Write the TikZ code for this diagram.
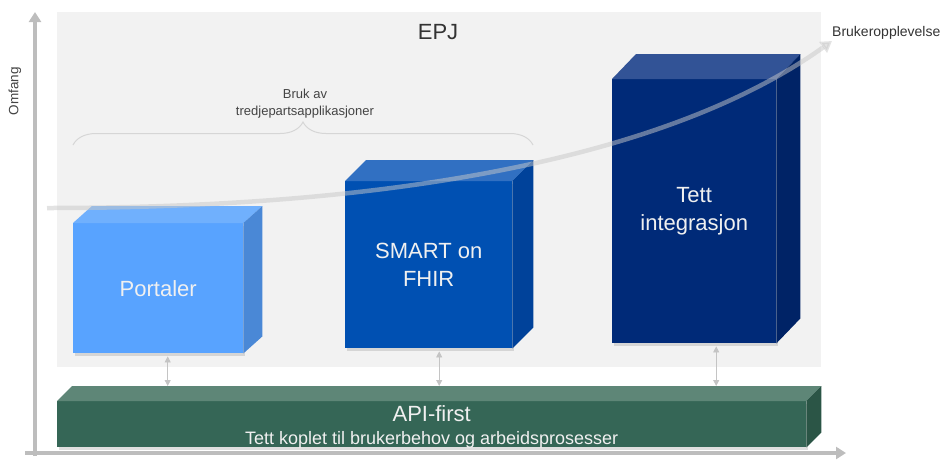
\documentclass[tikz,border=0pt]{standalone}
\usepackage{fontspec}
\setmainfont{Liberation Sans}
\usetikzlibrary{arrows.meta,positioning,calc,shadows,decorations.pathreplacing}
\definecolor{epjbg}{HTML}{F2F2F2}
\definecolor{axisgray}{HTML}{BDBDBD}
\definecolor{linkgray}{HTML}{C4C4C4}
\definecolor{trendgray}{HTML}{C8C8C8}
\definecolor{bracegray}{HTML}{D6D6D6}
\definecolor{notegray}{HTML}{444444}
\definecolor{portalfront}{HTML}{58A3FF}
\definecolor{portaltop}{HTML}{70B0FD}
\definecolor{portalside}{HTML}{4A88D6}
\definecolor{smartfront}{HTML}{0050B2}
\definecolor{smarttop}{HTML}{3170C2}
\definecolor{smartside}{HTML}{00429A}
\definecolor{tettfront}{HTML}{002A78}
\definecolor{tetttop}{HTML}{325396}
\definecolor{tettside}{HTML}{002366}
\definecolor{apifront}{HTML}{356656}
\definecolor{apitop}{HTML}{5E8677}
\definecolor{apiside}{HTML}{2B5546}

% top and side faces of a block: node, depth x, depth y, top colour, side colour
\newcommand{\blockfaces}[5]{%
  \fill[#4] (#1.north west) -- ++(#2,-#3) -- ($(#1.north east)+(#2,-#3)$) -- (#1.north east) -- cycle;
  \fill[#5] (#1.north east) -- ++(#2,-#3) -- ($(#1.south east)+(#2,-#3)$) -- (#1.south east) -- cycle;
}

\begin{document}
\begin{tikzpicture}[
    x=1pt,y=-1pt,
    face/.style={anchor=north west,inner sep=0pt,align=center,text=white!94!black,
      font=\fontsize{22}{28}\selectfont,
      drop shadow={opacity=0.25,shadow xshift=2pt,shadow yshift=-2.5pt}},
    axis/.style={draw=axisgray,line width=3.5pt,-{Triangle[length=10pt,width=12pt]}},
    link/.style={draw=linkgray,line width=0.8pt,{Triangle[length=6pt,width=6pt]}-{Triangle[length=6pt,width=6pt]},shorten <=3pt},
    trend/.style={draw=trendgray,opacity=0.5,line width=4.5pt,-{Triangle[length=11pt,width=13pt]}},
    brace/.style={draw=bracegray,line width=1pt,decorate,decoration={brace,amplitude=23pt}},
    note/.style={text=notegray,inner sep=0pt,align=center}
]
\useasboundingbox (0,0) rectangle (943,459);

% EPJ area
\fill[epjbg] (57,12) rectangle (821,367);
\node[note,anchor=base,text=black!80,font=\fontsize{22}{26}\selectfont] (epj) at (438,39) {EPJ};

% axes
\coordinate (origin) at (35,453);
\draw[axis] (35,456) -- (35,12);
\draw[axis] (25,453) -- (846,453);
\node[note,rotate=90,font=\fontsize{13.5}{16}\selectfont] (omfang) at (15,91) {Omfang};

% blocks
\node[face,fill=portalfront,minimum width=170pt,minimum height=130pt] (portal) at (73,223) {Portaler};
\blockfaces{portal}{19}{17}{portaltop}{portalside}
\node[face,fill=smartfront,minimum width=167pt,minimum height=167pt] (smart) at (345,181) {SMART on\\FHIR};
\blockfaces{smart}{21}{21}{smarttop}{smartside}
\node[face,fill=tettfront,minimum width=164pt,minimum height=264pt] (tett) at (612,79) {Tett\\integrasjon};
\blockfaces{tett}{24}{25}{tetttop}{tettside}

% API-first bar
\node[face,fill=apifront,minimum width=749pt,minimum height=46pt] (api) at (57,401) {};
\blockfaces{api}{15}{15}{apitop}{apiside}
\node[note,anchor=base,text=white!94!black,font=\fontsize{22}{26}\selectfont] (apititle) at ($(api.north)+(0,20)$) {API-first};
\node[note,anchor=base,text=white!94!black,font=\fontsize{18}{22}\selectfont] (apisub) at ($(api.north)+(0,43)$) {Tett koplet til brukerbehov og arbeidsprosesser};
\coordinate (apiback) at ($(api.north)+(0,-15)$);

\draw[link] ([xshift=9.5pt]portal.south) -- ([xshift=9.5pt]portal.south |- apiback);
\draw[link] ([xshift=10.5pt]smart.south) -- ([xshift=10.5pt]smart.south |- apiback);
\draw[link] ([xshift=22pt]tett.south) -- ([xshift=22pt]tett.south |- apiback);

% third-party brace
\coordinate (braceL) at (73,145);
\coordinate (braceR) at (533,145);
\draw[brace] (braceL) -- (braceR);
\node[note,anchor=south,font=\fontsize{13}{17}\selectfont] (bruk) at (305,118) {Bruk av\\tredjepartsapplikasjoner};

% user experience curve
\coordinate (trendstart) at (47,208);
\coordinate (trendend) at (832,41);
\draw[trend] (trendstart) .. controls (420,208) and (680,150) .. (trendend);
\node[note,anchor=base west,text=black!80,font=\fontsize{14}{17}\selectfont] (bruker) at (832,36) {Brukeropplevelse};
\end{tikzpicture}
\end{document}
